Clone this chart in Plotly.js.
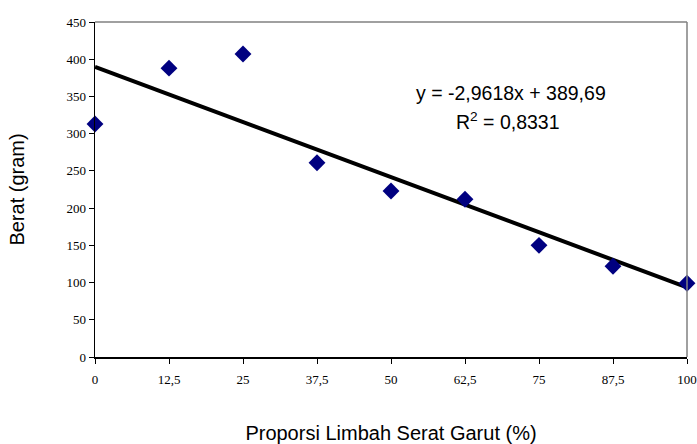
<!DOCTYPE html>
<html><head><meta charset="utf-8">
<script src="https://cdn.plot.ly/plotly-3.0.1.min.js"></script>
<style>html,body{margin:0;padding:0;background:#fff}#c{width:697px;height:444px}</style>
</head><body><div id="c"></div>
<script>
const proporsi = [0, 12.5, 25, 37.5, 50, 62.5, 75, 87.5, 100];
const berat = [313, 388, 407, 261, 223, 212, 150, 122, 99];
const xTickVals = [0, 12.5, 25, 37.5, 50, 62.5, 75, 87.5, 100];
const xTickText = ["0", "12,5", "25", "37,5", "50", "62,5", "75", "87,5", "100"];
const yTickVals = [0, 50, 100, 150, 200, 250, 300, 350, 400, 450];
const slope = -2.9618, intercept = 389.69;
const trendX = [0, 100];
const trendY = trendX.map(x => slope * x + intercept);

const data = [
  {x: trendX, y: trendY, type: 'scatter', mode: 'lines', line: {color: '#000', width: 4}, hoverinfo: 'skip'},
  {x: proporsi, y: berat, type: 'scatter', mode: 'markers', cliponaxis: false,
   marker: {symbol: 'diamond', size: 13, color: '#000080'}}
];
const tickFont = {family: 'Liberation Serif, Times New Roman, serif', size: 13, color: '#000'};
const sans = 'Liberation Sans, Arial, sans-serif';
const layout = {
  width: 697, height: 444,
  margin: {l: 95, r: 10, t: 22, b: 87},
  paper_bgcolor: '#fff', plot_bgcolor: '#fff',
  showlegend: false,
  xaxis: {range: [0, 100], tickvals: xTickVals, ticktext: xTickText, ticks: 'outside', ticklen: 5, tickcolor: '#000',
    ticklabelstandoff: 5,
    showline: true, linecolor: '#000', linewidth: 1.5, showgrid: false, zeroline: false, tickfont: tickFont,
    title: {text: 'Proporsi Limbah Serat Garut (%)', font: {family: sans, size: 20, color: '#000'}, standoff: 40}},
  yaxis: {range: [0, 450], tickvals: yTickVals, ticks: 'outside', ticklen: 5, tickcolor: '#000',
    showline: true, linecolor: '#000', linewidth: 1.5, showgrid: false, zeroline: false, tickfont: tickFont,
    title: {text: 'Berat (gram)', font: {family: sans, size: 20, color: '#000'}, standoff: 36}},
  shapes: [
    {type: 'line', xref: 'paper', yref: 'paper', x0: 0, x1: 1, y0: 1, y1: 1, line: {color: '#808080', width: 1.5}},
    {type: 'line', xref: 'paper', yref: 'paper', x0: 1, x1: 1, y0: 0, y1: 1, line: {color: '#808080', width: 1.5}}
  ],
  annotations: [
    {xref: 'paper', yref: 'paper', x: 0.702, y: 0.787, xanchor: 'center', yanchor: 'middle', text: 'y = -2,9618x + 389,69', showarrow: false,
     font: {family: sans, size: 19.5, color: '#000'}},
    {xref: 'paper', yref: 'paper', x: 0.698, y: 0.703, xanchor: 'center', yanchor: 'middle', text: 'R<sup>2</sup> = 0,8331', showarrow: false,
     font: {family: sans, size: 19.5, color: '#000'}}
  ]
};
Plotly.newPlot('c', data, layout, {staticPlot: true});
</script></body></html>
